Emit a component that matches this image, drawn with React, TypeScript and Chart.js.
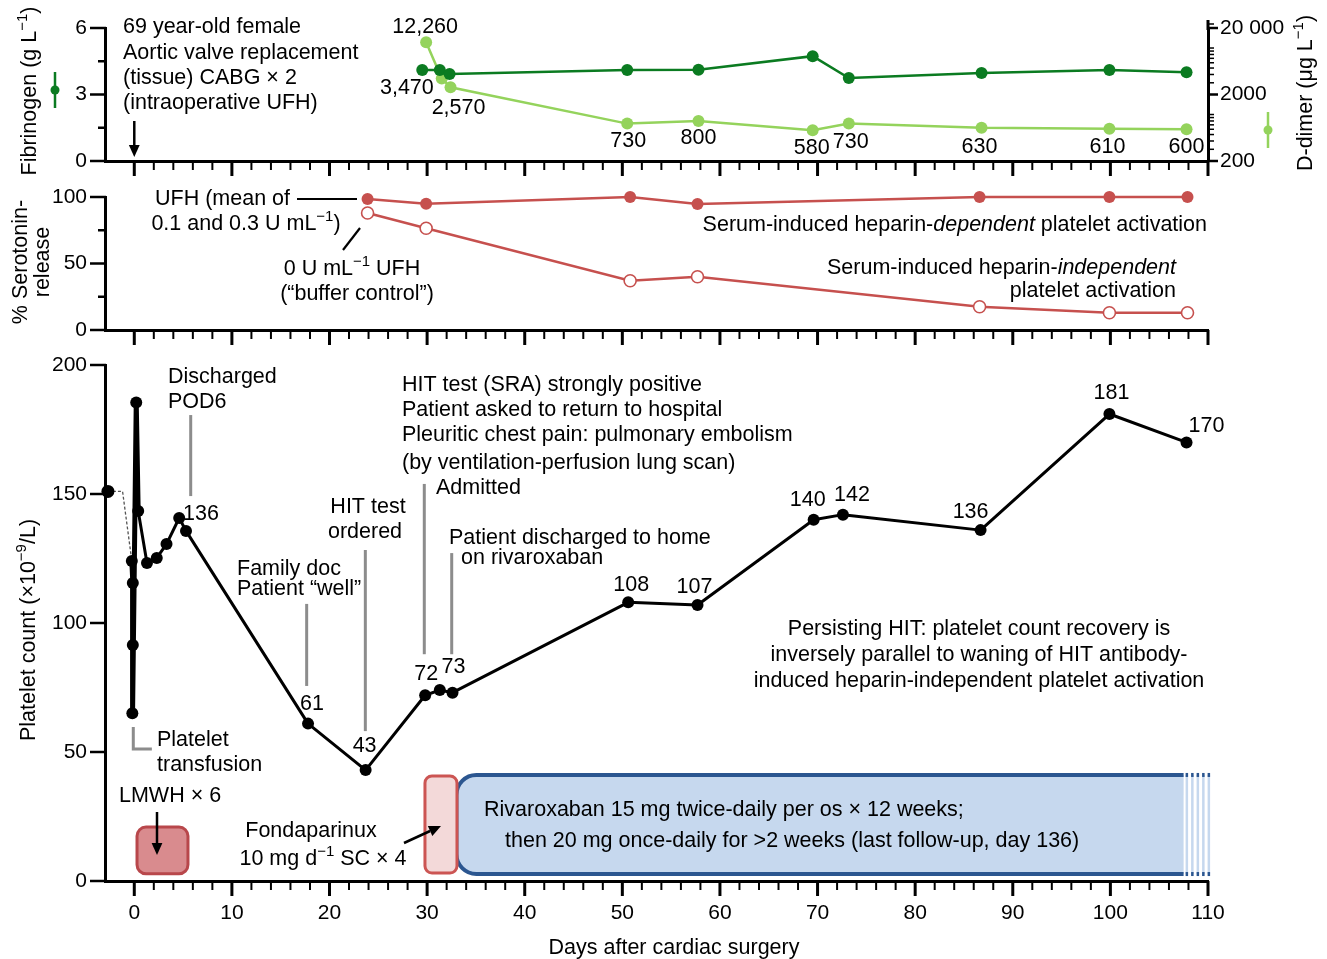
import React, { useEffect, useRef } from 'react';
import { Chart, registerables } from 'chart.js';

Chart.register(...registerables);

const FF = '"Liberation Sans", Arial, Helvetica, sans-serif';
const FS = 21;
const ANN_FS = 21.5;
const W = 1327;

// ---------- shared day axis ----------
const X_MIN = -3;
const X_MAX = 110;
const dayMajorTicks = [0, 10, 20, 30, 40, 50, 60, 70, 80, 90, 100, 110];
const dayMinorTicks = [2, 4, 6, 8, 12, 14, 16, 18, 22, 24, 26, 28, 32, 34, 36, 38, 42, 44, 46, 48, 52, 54, 56, 58, 62, 64, 66, 68, 72, 74, 76, 78, 82, 84, 86, 88, 92, 94, 96, 98, 102, 104, 106, 108];

// ---------- panel 1: fibrinogen / D-dimer ----------
const fibrinogenDays = [29.5, 31.3, 32.3, 50.5, 57.8, 69.5, 73.2, 86.8, 99.9, 107.8];
const fibrinogenValues = [4.1, 4.1, 3.92, 4.1, 4.12, 4.73, 3.74, 3.97, 4.1, 4.0];
const dDimerDays = [29.9, 31.5, 32.4, 50.5, 57.8, 69.5, 73.2, 86.8, 99.9, 107.8];
const dDimerValues = [12260, 3470, 2570, 730, 800, 580, 730, 630, 610, 600];
const fibrinogenTicks = [0, 3, 6];
const fibrinogenMinorTicks = [1.5, 4.5];
const dDimerTicks = [200, 2000, 20000];

// ---------- panel 2: serotonin release ----------
const sraDays = [23.9, 29.9, 50.8, 57.7, 86.6, 99.9, 107.9];
const sraHeparinDependent = [98.5, 95, 100, 94.7, 100, 100, 100];
const sraHeparinIndependent = [88, 76.5, 37, 40, 17.5, 13, 13];
const sraTicks = [0, 50, 100];
const sraMinorTicks = [25, 75];

// ---------- panel 3: platelet count ----------
const plateletDays = [-0.25, -0.15, -0.15, -0.2, 0.2, 0.4, 1.3, 2.3, 3.3, 4.6, 5.3, 17.8, 23.7, 29.8, 31.3, 32.6, 50.6, 57.7, 69.6, 72.6, 86.7, 99.9, 107.8];
const plateletCounts = [124, 115.5, 91.5, 65, 185.5, 143.4, 123.3, 125.2, 130.6, 140.7, 135.7, 61, 43, 72, 74, 73, 108, 107, 140, 142, 136, 181, 170];
const preopDays = [-2.7, -1.2, -0.25];
const preopCounts = [151, 151, 124];
const plateletTicks = [0, 50, 100, 150, 200];
const lmwhPeriod = [0.28, 5.5];
const fondaparinuxPeriod = [29.78, 33.06];
const rivaroxabanPeriod = [33.0, 107.5];
const rivaroxabanOngoingTo = 110.5;

const DARK_GREEN = '#0b7b21';
const LIGHT_GREEN = '#94d35c';
const RED = '#c6504e';
const GREY = '#8c8c8c';
const BLUE_EDGE = '#2b5690';
const BLUE_FILL = '#c6d8ee';

type Seg = { t: string; sup?: boolean; it?: boolean };

function parseRich(s: string): Seg[] {
  const segs: Seg[] = [];
  const re = /\^\{([^}]*)\}|\*([^*]*)\*/g;
  let last = 0;
  let m: RegExpExecArray | null;
  while ((m = re.exec(s))) {
    if (m.index > last) segs.push({ t: s.slice(last, m.index) });
    if (m[1] !== undefined) segs.push({ t: m[1], sup: true });
    else segs.push({ t: m[2], it: true });
    last = re.lastIndex;
  }
  if (last < s.length) segs.push({ t: s.slice(last) });
  return segs;
}

function drawRich(ctx: CanvasRenderingContext2D, s: string, x: number, y: number, align = 'left', size = ANN_FS, color = '#000') {
  const segs = parseRich(s);
  const fontOf = (g: Seg) => `${g.it ? 'italic ' : ''}${g.sup ? Math.round(size * 0.68) : size}px ${FF}`;
  let total = 0;
  const widths = segs.map((g) => {
    ctx.font = fontOf(g);
    const w = ctx.measureText(g.t).width;
    total += w;
    return w;
  });
  let cx = align === 'left' ? x : align === 'center' ? x - total / 2 : x - total;
  ctx.save();
  ctx.fillStyle = color;
  ctx.textBaseline = 'middle';
  ctx.textAlign = 'left';
  segs.forEach((g, i) => {
    ctx.font = fontOf(g);
    ctx.fillText(g.t, cx, y + (g.sup ? -size * 0.32 : 0));
    cx += widths[i];
  });
  ctx.restore();
}

function vText(ctx: CanvasRenderingContext2D, s: string, cx: number, cy: number) {
  ctx.save();
  ctx.translate(cx, cy);
  ctx.rotate(-Math.PI / 2);
  drawRich(ctx, s, 0, 0, 'center');
  ctx.restore();
}

function seg(ctx: CanvasRenderingContext2D, x1: number, y1: number, x2: number, y2: number, color: string, w: number) {
  ctx.save();
  ctx.strokeStyle = color;
  ctx.lineWidth = w;
  ctx.beginPath();
  ctx.moveTo(x1, y1);
  ctx.lineTo(x2, y2);
  ctx.stroke();
  ctx.restore();
}

function arrow(ctx: CanvasRenderingContext2D, x1: number, y1: number, x2: number, y2: number, w = 3, head = 12) {
  const a = Math.atan2(y2 - y1, x2 - x1);
  const bx = x2 - head * Math.cos(a);
  const by = y2 - head * Math.sin(a);
  seg(ctx, x1, y1, bx, by, '#000', w);
  const hw = head * 0.45;
  ctx.save();
  ctx.fillStyle = '#000';
  ctx.beginPath();
  ctx.moveTo(x2, y2);
  ctx.lineTo(bx + hw * Math.sin(a), by - hw * Math.cos(a));
  ctx.lineTo(bx - hw * Math.sin(a), by + hw * Math.cos(a));
  ctx.closePath();
  ctx.fill();
  ctx.restore();
}

function roundRectPath(ctx: CanvasRenderingContext2D, x: number, y: number, w: number, h: number, r: number) {
  ctx.beginPath();
  ctx.moveTo(x + r, y);
  ctx.lineTo(x + w - r, y);
  ctx.arcTo(x + w, y, x + w, y + r, r);
  ctx.lineTo(x + w, y + h - r);
  ctx.arcTo(x + w, y + h, x + w - r, y + h, r);
  ctx.lineTo(x + r, y + h);
  ctx.arcTo(x, y + h, x, y + h - r, r);
  ctx.lineTo(x, y + r);
  ctx.arcTo(x, y, x + r, y, r);
  ctx.closePath();
}

function drawDayTicks(chart: any) {
  const { ctx, chartArea } = chart;
  const xs = chart.scales.x;
  const y0 = chartArea.bottom;
  dayMajorTicks.forEach((v) => {
    const px = xs.getPixelForValue(v);
    seg(ctx, px, y0, px, y0 + 15, '#000', 3);
  });
  dayMinorTicks.forEach((v) => {
    const px = xs.getPixelForValue(v);
    seg(ctx, px, y0, px, y0 + 9, '#000', 2);
  });
}

function drawLeftTicks(chart: any, major: number[], minor: number[]) {
  const { ctx, chartArea } = chart;
  const ys = chart.scales.y;
  const x0 = chartArea.left + 1;
  major.forEach((v) => {
    const py = ys.getPixelForValue(v);
    seg(ctx, x0, py, x0 - 16, py, '#000', 2.5);
  });
  minor.forEach((v) => {
    const py = ys.getPixelForValue(v);
    seg(ctx, x0, py, x0 - 8, py, '#000', 2.5);
  });
}

function zeroPad(s: any) {
  s.paddingLeft = 0;
  s.paddingRight = 0;
  s.paddingTop = 0;
  s.paddingBottom = 0;
}

function dayScale(showLabels: boolean, axisHeight: number) {
  return {
    type: 'linear',
    position: 'bottom',
    min: X_MIN,
    max: X_MAX,
    grid: { display: false, drawTicks: false },
    border: { display: true, color: '#000', width: 3 },
    ticks: { display: showLabels, color: '#000', font: { family: FF, size: FS }, padding: 20, autoSkip: false, maxRotation: 0 },
    afterBuildTicks: (s: any) => {
      s.ticks = dayMajorTicks.map((v) => ({ value: v }));
    },
    afterFit: (s: any) => {
      s.height = axisHeight;
      zeroPad(s);
    },
  };
}

function leftScale(min: number, max: number, ticks: number[]) {
  return {
    type: 'linear',
    position: 'left',
    min,
    max,
    grid: { display: false, drawTicks: false },
    border: { display: true, color: '#000', width: 3 },
    ticks: { color: '#000', font: { family: FF, size: FS }, padding: 18, autoSkip: false },
    afterBuildTicks: (s: any) => {
      s.ticks = ticks.map((v) => ({ value: v }));
    },
    afterFit: (s: any) => {
      s.width = 105;
      zeroPad(s);
    },
  };
}

const fmtThousands = (v: number) => (v >= 1000 ? v.toLocaleString('en-US') : String(v));

// ---------------- panel 1 ----------------
const OY1 = 0;
const dimerLabelOffsets: [number, number, string][] = [
  [-1, -15, 'center'],
  [-8, 9, 'right'],
  [8, 21, 'center'],
  [1, 17, 'center'],
  [0, 17, 'center'],
  [-1, 18, 'center'],
  [2, 18, 'center'],
  [-2, 19, 'center'],
  [-2, 18, 'center'],
  [0, 18, 'center'],
];

const topPlugin = {
  id: 'topAnno',
  afterDraw(chart: any) {
    const { ctx, chartArea: ca } = chart;
    const xs = chart.scales.x;
    const y2 = chart.scales.y2;
    const T = (s: string, x: number, y: number, al = 'left') => drawRich(ctx, s, x, y - OY1, al);
    drawDayTicks(chart);
    drawLeftTicks(chart, fibrinogenTicks, fibrinogenMinorTicks);
    // log ticks on right axis
    for (let dec = 100; dec <= 10000; dec *= 10) {
      for (let n = 1; n <= 9; n++) {
        const v = n * dec;
        if (v < 200 || v > 20000) continue;
        const major = dDimerTicks.includes(v);
        const py = y2.getPixelForValue(v);
        seg(ctx, ca.right - 1, py, ca.right + (major ? 10 : 6), py, '#000', major ? 2.5 : 1.5);
      }
    }
    seg(ctx, ca.right, ca.top + 2, ca.right, ca.top - 8, '#000', 3);
    seg(ctx, ca.right, ca.top - 4, ca.right + 6, ca.top - 4, '#000', 1.5);
    // D-dimer value labels
    dDimerValues.forEach((v, i) => {
      const [dx, dy, al] = dimerLabelOffsets[i];
      drawRich(ctx, fmtThousands(v), xs.getPixelForValue(dDimerDays[i]) + dx, y2.getPixelForValue(v) + dy, al);
    });
    // patient description
    ['69 year-old female', 'Aortic valve replacement', '(tissue) CABG \u00d7 2', '(intraoperative UFH)'].forEach((t, i) =>
      T(t, 123, 27.5 + i * 25.3)
    );
    const x0 = xs.getPixelForValue(0);
    arrow(ctx, x0, 121 - OY1, x0, 157 - OY1, 2.5, 12);
    // axis titles + legend keys
    vText(ctx, 'Fibrinogen (g L^{\u22121})', 30, 91 - OY1);
    seg(ctx, 55, 72 - OY1, 55, 108 - OY1, DARK_GREEN, 2.5);
    ctx.save();
    ctx.fillStyle = DARK_GREEN;
    ctx.beginPath();
    ctx.arc(55, 90 - OY1, 4.5, 0, Math.PI * 2);
    ctx.fill();
    ctx.restore();
    vText(ctx, 'D-dimer (\u03bcg L^{\u22121})', 1306, 93 - OY1);
    seg(ctx, 1268, 112 - OY1, 1268, 148 - OY1, LIGHT_GREEN, 2.5);
    ctx.save();
    ctx.fillStyle = LIGHT_GREEN;
    ctx.beginPath();
    ctx.arc(1268, 130 - OY1, 4.5, 0, Math.PI * 2);
    ctx.fill();
    ctx.restore();
  },
};

function buildTop(): any {
  return {
    type: 'line',
    data: {
      datasets: [
        {
          label: 'Fibrinogen',
          data: fibrinogenDays.map((d, i) => ({ x: d, y: fibrinogenValues[i] })),
          yAxisID: 'y',
          borderColor: DARK_GREEN,
          backgroundColor: DARK_GREEN,
          pointBackgroundColor: DARK_GREEN,
          pointBorderColor: DARK_GREEN,
          borderWidth: 2.5,
          pointRadius: 6,
          pointBorderWidth: 0,
          clip: false,
        },
        {
          label: 'D-dimer',
          data: dDimerDays.map((d, i) => ({ x: d, y: dDimerValues[i] })),
          yAxisID: 'y2',
          borderColor: LIGHT_GREEN,
          backgroundColor: LIGHT_GREEN,
          pointBackgroundColor: LIGHT_GREEN,
          pointBorderColor: LIGHT_GREEN,
          borderWidth: 2.5,
          pointRadius: 6,
          pointBorderWidth: 0,
          clip: false,
        },
      ],
    },
    options: {
      responsive: false,
      animation: false,
      devicePixelRatio: 1,
      events: [],
      layout: { padding: { top: 28, left: 0, right: 0, bottom: 0 } },
      plugins: { legend: { display: false }, tooltip: { enabled: false } },
      scales: {
        x: dayScale(false, 24),
        y: leftScale(0, 6, fibrinogenTicks),
        y2: {
          type: 'logarithmic',
          position: 'right',
          min: 200,
          max: 20000,
          grid: { display: false, drawTicks: false },
          border: { display: true, color: '#000', width: 3 },
          ticks: {
            color: '#000',
            font: { family: FF, size: FS },
            padding: 12,
            autoSkip: false,
            callback: (v: number) => (v >= 10000 ? fmtThousands(v).replace(',', ' ') : String(v)),
          },
          afterBuildTicks: (s: any) => {
            s.ticks = dDimerTicks.map((v) => ({ value: v }));
          },
          afterFit: (s: any) => {
            s.width = 119;
            zeroPad(s);
          },
        },
      },
    },
    plugins: [topPlugin],
  };
}

// ---------------- panel 2 ----------------
const OY2 = 180;
const midPlugin = {
  id: 'midAnno',
  afterDraw(chart: any) {
    const { ctx } = chart;
    const T = (s: string, x: number, y: number, al = 'left') => drawRich(ctx, s, x, y - OY2, al);
    drawDayTicks(chart);
    drawLeftTicks(chart, sraTicks, sraMinorTicks);
    T('UFH (mean of', 290, 199, 'right');
    seg(ctx, 297, 199 - OY2, 357, 199 - OY2, '#000', 2.2);
    T('0.1 and 0.3 U mL^{\u22121})', 246, 224, 'center');
    seg(ctx, 343, 250 - OY2, 360, 228 - OY2, '#000', 2.2);
    T('0 U mL^{\u22121} UFH', 352, 269, 'center');
    T('(\u201cbuffer control\u201d)', 357, 294, 'center');
    T('Serum-induced heparin-*dependent* platelet activation', 1207, 225, 'right');
    T('Serum-induced heparin-*independent*', 1176, 268, 'right');
    T('platelet activation', 1176, 291, 'right');
    vText(ctx, '% Serotonin-', 21, 262 - OY2);
    vText(ctx, 'release', 43, 262 - OY2);
  },
};

function buildMid(): any {
  return {
    type: 'line',
    data: {
      datasets: [
        {
          label: 'Heparin-dependent',
          data: sraDays.map((d, i) => ({ x: d, y: sraHeparinDependent[i] })),
          borderColor: RED,
          backgroundColor: RED,
          pointBackgroundColor: RED,
          pointBorderColor: RED,
          borderWidth: 2.5,
          pointRadius: 6,
          pointBorderWidth: 0,
          clip: false,
        },
        {
          label: 'Heparin-independent',
          data: sraDays.map((d, i) => ({ x: d, y: sraHeparinIndependent[i] })),
          borderColor: RED,
          backgroundColor: '#fff',
          pointBackgroundColor: '#fff',
          pointBorderColor: RED,
          borderWidth: 2.5,
          pointRadius: 6,
          pointBorderWidth: 1.6,
          clip: false,
        },
      ],
    },
    options: {
      responsive: false,
      animation: false,
      devicePixelRatio: 1,
      events: [],
      layout: { padding: { top: 17, left: 0, right: 119, bottom: 0 } },
      plugins: { legend: { display: false }, tooltip: { enabled: false } },
      scales: {
        x: dayScale(false, 20),
        y: leftScale(0, 100, sraTicks),
      },
    },
    plugins: [midPlugin],
  };
}

// ---------------- panel 3 ----------------
const OY3 = 350;
const plateletLabelOffsets: Record<number, [number, number]> = {
  10: [15, -17],
  11: [4, -20],
  12: [-1, -24],
  13: [1, -21],
  15: [1, -26],
  16: [3, -17],
  17: [-3, -18],
  18: [-6, -20],
  19: [9, -20],
  20: [-10, -18],
  21: [2, -21],
  22: [20, -16],
};
const eventLines: [number, number, number][] = [
  [5.78, 180.6, 149.2],
  [17.66, 107.4, 75.6],
  [23.67, 128.3, 58.1],
  [29.71, 153.9, 87.9],
  [32.52, 127.1, 87.9],
];

const botBoxesPlugin = {
  id: 'botBoxes',
  beforeDatasetsDraw(chart: any) {
    const { ctx } = chart;
    const X = (d: number) => chart.scales.x.getPixelForValue(d);
    const Y = (v: number) => chart.scales.y.getPixelForValue(v);
    // grey event markers
    eventLines.forEach(([d, a, b]) => seg(ctx, X(d), Y(a), X(d), Y(b), GREY, 3));
    // platelet transfusion bracket
    ctx.save();
    ctx.strokeStyle = GREY;
    ctx.lineWidth = 3;
    ctx.beginPath();
    ctx.moveTo(X(0) - 1, Y(59.7));
    ctx.lineTo(X(0) - 1, Y(51.2));
    ctx.lineTo(X(1.8), Y(51.2));
    ctx.stroke();
    ctx.restore();
    // rivaroxaban
    const xl = X(rivaroxabanPeriod[0]);
    const xr = X(rivaroxabanPeriod[1]);
    const yt = Y(41.1);
    const yb = Y(2.7);
    const r = 20;
    ctx.save();
    ctx.beginPath();
    ctx.moveTo(xr, yt);
    ctx.lineTo(xl + r, yt);
    ctx.arcTo(xl, yt, xl, yt + r, r);
    ctx.lineTo(xl, yb - r);
    ctx.arcTo(xl, yb, xl + r, yb, r);
    ctx.lineTo(xr, yb);
    ctx.fillStyle = BLUE_FILL;
    ctx.fill();
    ctx.strokeStyle = BLUE_EDGE;
    ctx.lineWidth = 4;
    ctx.stroke();
    const xe = X(rivaroxabanOngoingTo);
    for (let sx = xr + 2; sx < xe; sx += 5.5) {
      ctx.fillStyle = BLUE_FILL;
      ctx.fillRect(sx, yt, 2.5, yb - yt);
      ctx.fillStyle = BLUE_EDGE;
      ctx.fillRect(sx, yt - 2, 2.5, 4);
      ctx.fillRect(sx, yb - 2, 2.5, 4);
    }
    ctx.restore();
    // fondaparinux
    ctx.save();
    const fx = X(fondaparinuxPeriod[0]);
    roundRectPath(ctx, fx, Y(40.7), X(fondaparinuxPeriod[1]) - fx, Y(3.1) - Y(40.7), 7);
    ctx.fillStyle = '#f3d9d9';
    ctx.fill();
    ctx.strokeStyle = '#cc5553';
    ctx.lineWidth = 3;
    ctx.stroke();
    // LMWH
    const lx = X(lmwhPeriod[0]);
    roundRectPath(ctx, lx, Y(20.9), X(lmwhPeriod[1]) - lx, Y(2.8) - Y(20.9), 9);
    ctx.fillStyle = '#d98b8e';
    ctx.fill();
    ctx.strokeStyle = '#b8474b';
    ctx.lineWidth = 3;
    ctx.stroke();
    ctx.restore();
  },
  afterDraw(chart: any) {
    const { ctx } = chart;
    const X = (d: number) => chart.scales.x.getPixelForValue(d);
    const Y = (v: number) => chart.scales.y.getPixelForValue(v);
    const T = (s: string, x: number, y: number, al = 'left') => drawRich(ctx, s, x, y - OY3, al);
    drawDayTicks(chart);
    drawLeftTicks(chart, plateletTicks, []);
    // value labels
    Object.keys(plateletLabelOffsets).forEach((k) => {
      const i = Number(k);
      const [dx, dy] = plateletLabelOffsets[i];
      drawRich(ctx, String(Math.round(plateletCounts[i])), X(plateletDays[i]) + dx, Y(plateletCounts[i]) + dy, 'center');
    });
    T('Discharged', 168, 377);
    T('POD6', 168, 402);
    T('Family doc', 237, 569);
    T('Patient \u201cwell\u201d', 237, 589);
    T('HIT test', 368, 507, 'center');
    T('ordered', 365, 532, 'center');
    T('HIT test (SRA) strongly positive', 402, 385);
    T('Patient asked to return to hospital', 402, 410);
    T('Pleuritic chest pain: pulmonary embolism', 402, 435);
    T('(by ventilation-perfusion lung scan)', 402, 463);
    T('Admitted', 436, 488);
    T('Patient discharged to home', 449, 538);
    T('on rivaroxaban', 461, 558);
    T('Persisting HIT: platelet count recovery is', 979, 629, 'center');
    T('inversely parallel to waning of HIT antibody-', 979, 655, 'center');
    T('induced heparin-independent platelet activation', 979, 681, 'center');
    T('Platelet', 157, 740);
    T('transfusion', 157, 765);
    T('LMWH \u00d7 6', 119, 796);
    T('Fondaparinux', 311, 831, 'center');
    T('10 mg d^{\u22121} SC \u00d7 4', 323, 859, 'center');
    T('Rivaroxaban 15 mg twice-daily per os \u00d7 12 weeks;', 484, 810);
    T('then 20 mg once-daily for >2 weeks (last follow-up, day 136)', 505, 841);
    arrow(ctx, 157, 812 - OY3, 157, 855 - OY3, 2.5, 12);
    arrow(ctx, 404, 843 - OY3, 441, 826 - OY3, 2.5, 12);
    vText(ctx, 'Platelet count (\u00d710^{\u22129}/L)', 29, 630 - OY3);
    T('Days after cardiac surgery', 674, 948, 'center');
  },
};

function buildBottom(): any {
  return {
    type: 'line',
    data: {
      datasets: [
        {
          label: 'Platelet count',
          data: plateletDays.map((d, i) => ({ x: d, y: plateletCounts[i] })),
          borderColor: '#000',
          backgroundColor: '#000',
          pointBackgroundColor: '#000',
          pointBorderColor: '#000',
          borderWidth: 3,
          pointRadius: 6,
          pointBorderWidth: 0,
          borderJoinStyle: 'round',
          segment: { borderWidth: (c: any) => (c.p0DataIndex < 5 ? 5 : 3) },
          clip: false,
        },
        {
          label: 'Pre-operative',
          data: preopDays.map((d, i) => ({ x: d, y: preopCounts[i] })),
          borderColor: '#555',
          backgroundColor: '#000',
          pointBackgroundColor: '#000',
          pointBorderColor: '#000',
          borderWidth: 1.3,
          borderDash: [3, 2],
          pointRadius: [6.5, 0, 0],
          pointBorderWidth: 0,
          clip: false,
        },
      ],
    },
    options: {
      responsive: false,
      animation: false,
      devicePixelRatio: 1,
      events: [],
      layout: { padding: { top: 15, left: 0, right: 119, bottom: 0 } },
      plugins: { legend: { display: false }, tooltip: { enabled: false } },
      scales: {
        x: dayScale(true, 78),
        y: leftScale(0, 200, plateletTicks),
      },
    },
    plugins: [botBoxesPlugin],
  };
}

function Panel({ top, height, build }: { top: number; height: number; build: () => any }) {
  const ref = useRef<HTMLCanvasElement>(null);
  useEffect(() => {
    const chart = new Chart(ref.current as HTMLCanvasElement, build());
    return () => chart.destroy();
  }, []);
  return (
    <canvas
      ref={ref}
      width={W}
      height={height}
      style={{ position: 'absolute', left: 0, top, width: W, height, display: 'block' }}
    />
  );
}

export default function App() {
  return (
    <div style={{ position: 'absolute', left: 0, top: 0, width: W, height: 959, background: '#fff', overflow: 'hidden' }}>
      <Panel top={0} height={185} build={buildTop} />
      <Panel top={180} height={170} build={buildMid} />
      <Panel top={350} height={609} build={buildBottom} />
    </div>
  );
}
